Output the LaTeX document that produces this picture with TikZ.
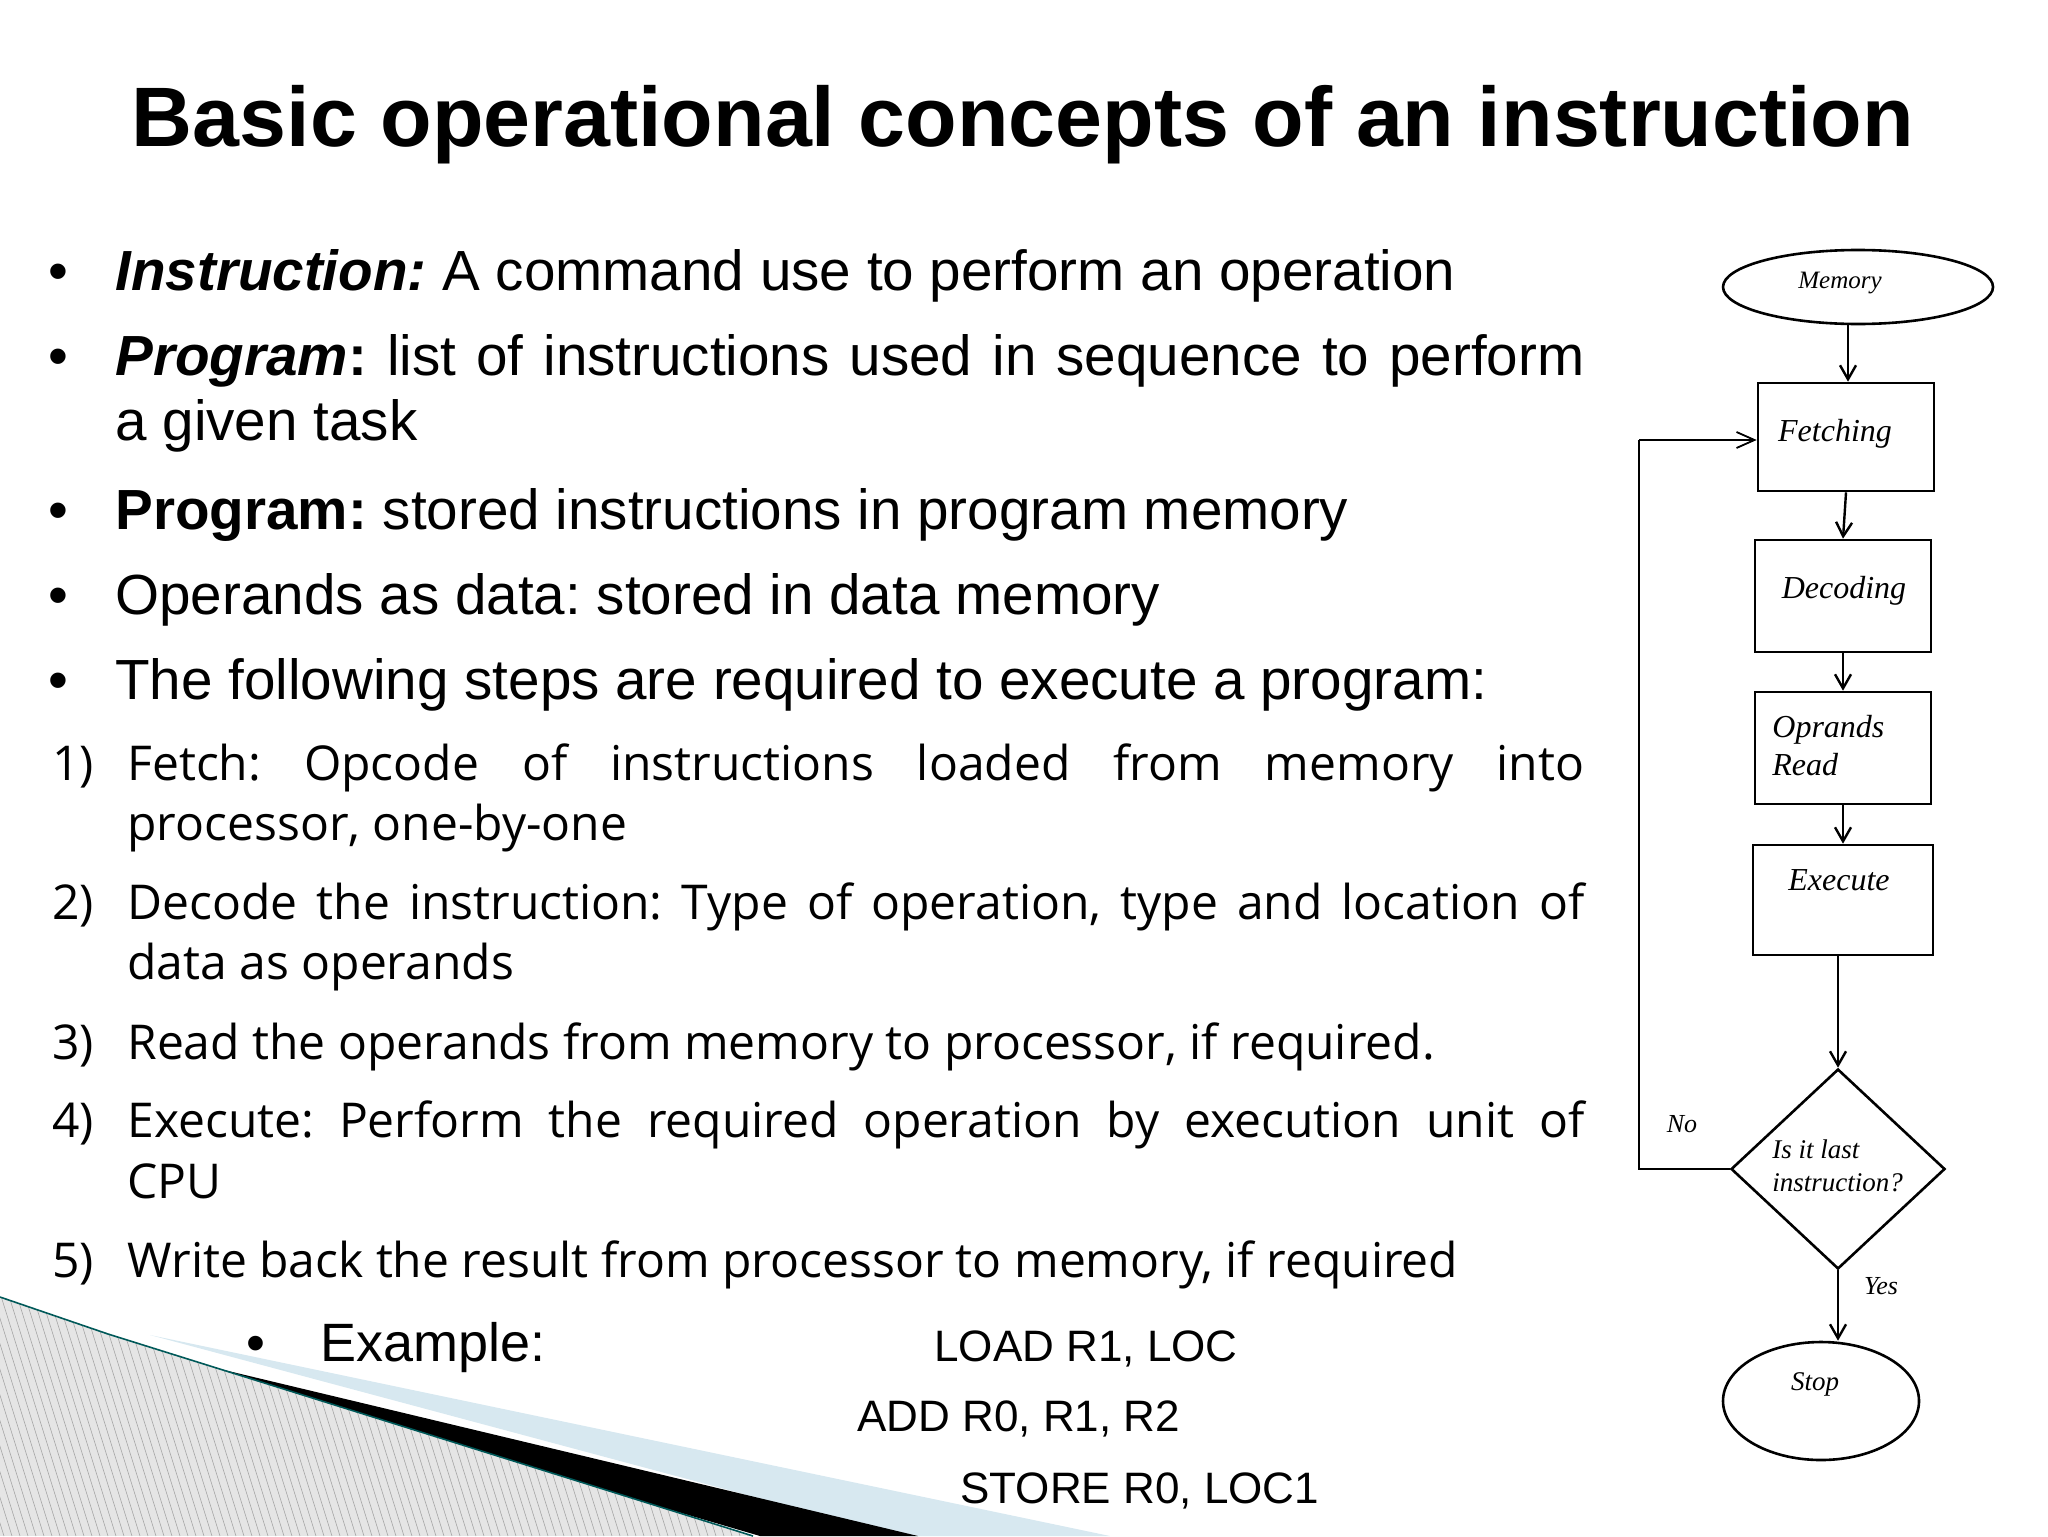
\documentclass[tikz,border=0pt]{standalone}
\usepackage{fontspec}
\setmainfont{Liberation Sans}
\newfontfamily\osans{Open Sans}
\newfontfamily\tms{Liberation Serif}
\usetikzlibrary{shapes.geometric,arrows.meta}
\definecolor{lblue}{RGB}{215,232,240}
\frenchspacing
\begin{document}
\begin{tikzpicture}[x=0.5pt,y=-0.5pt,
  txt/.style={anchor=base west,inner sep=0pt},
  bul/.style={txt,font=\fontsize{28.3}{34}\selectfont},
  num/.style={txt,font=\osans\fontsize{24}{29}\selectfont},
  ex/.style={txt,font=\fontsize{22}{26}\selectfont},
  fbox/.style={draw,line width=1.3pt,minimum width=88pt,minimum height=54pt,inner sep=0pt},
  flab/.style={txt,font=\tms\itshape\fontsize{16}{17}\selectfont},
  farr/.style={line width=1.2pt,-{Straight Barb[length=7pt,width=8pt]}}]
\useasboundingbox (0,0) rectangle (2048,1536);
% bottom-left decoration
\fill[lblue] (150,1335) -- (1110,1536) -- (900,1536) -- cycle;
\fill[black] (57,1330) -- (918,1536) -- (760,1536) -- cycle;
\begin{scope}
\clip (0,1297) -- (108,1334) -- (753,1536) -- (0,1536) -- cycle;
\fill[gray!20] (0,1280) rectangle (800,1536);
\foreach \i in {-300,-292,...,800} \draw[gray!70,line width=0.3pt] (\i,1280) -- (\i+80,1536);
\end{scope}
\draw[teal!70!black,line width=0.8pt] (0,1297) -- (108,1334) -- (753,1536);
% title
\node[inner sep=0pt,anchor=base,font=\bfseries\fontsize{42.2}{48}\selectfont] (title) at (1023,146) {Basic operational concepts of an instruction};
% bullets
\foreach \y/\n in {290/b1,375/b2,529/b3,614/b4,699/b5} \node[bul] (\n) at (48,\y) {•};
\node[bul] (t1) at (115,290) {\textbf{\textit{Instruction:}} A command use to perform an operation};
\node[bul] (t2) at (115,375) {\hbox to 734.5pt{\textbf{\textit{Program}}\textbf{:} list of instructions used in sequence to perform}};
\node[bul] (t2b) at (115,440) {a given task};
\node[bul] (t3) at (115,529) {\textbf{Program:} stored instructions in program memory};
\node[bul] (t4) at (115,614) {Operands as data: stored in data memory};
\node[bul] (t5) at (115,699) {The following steps are required to execute a program:};
% numbered
\foreach \y/\k in {780/1,919/2,1059/3,1137/4,1277/5} \node[num] (n\k) at (52,\y) {\k)};
\node[num] (s1) at (127,780) {\hbox to 728.5pt{Fetch: Opcode of instructions loaded from memory into}};
\node[num] (s1b) at (127,840) {processor, one-by-one};
\node[num] (s2) at (127,919) {\hbox to 728.5pt{Decode the instruction: Type of operation, type and location of}};
\node[num] (s2b) at (127,979) {data as operands};
\node[num] (s3) at (127,1059) {Read the operands from memory to processor, if required.};
\node[num] (s4) at (127,1137) {\hbox to 728.5pt{Execute: Perform the required operation by execution unit of}};
\node[num] (s4b) at (127,1198) {CPU};
\node[num] (s5) at (127,1277) {Write back the result from processor to memory, if required};
% example
\node[txt,font=\fontsize{27}{30}\selectfont] (eb) at (246,1361) {•};
\node[txt,font=\fontsize{27}{30}\selectfont] (ex) at (320,1361) {Example:};
\node[ex] (l1) at (934,1361) {LOAD R1, LOC};
\node[ex] (l2) at (857,1431) {ADD R0, R1, R2};
\node[ex] (l3) at (960,1503) {STORE R0, LOC1};
% flowchart
\node[draw,ellipse,line width=1.3pt,minimum width=135pt,minimum height=37pt] (mem) at (1858,287) {};
\node[flab,font=\tms\itshape\fontsize{12.5}{14}\selectfont,anchor=base] at (1840,288) {Memory};
\node[fbox] (fet) at (1846,437) {};
\node[fbox,minimum height=56pt] (dec) at (1843,596) {};
\node[fbox,minimum height=56pt] (opr) at (1843,748) {};
\node[fbox,minimum width=90pt,minimum height=55pt] (exe) at (1843,900) {};
\node[draw,diamond,line width=1.3pt,minimum width=107pt,minimum height=100pt,inner sep=0pt] (dia) at (1838,1169) {};
\node[draw,ellipse,line width=1.3pt,minimum width=98pt,minimum height=59pt] (stop) at (1821,1401) {};
\node[flab,anchor=base] at (1835,441) {Fetching};
\node[flab,anchor=base] at (1844,598) {Decoding};
\node[flab] at (1772,737) {Oprands};
\node[flab] at (1772,775) {Read};
\node[flab,anchor=base] at (1839,890) {Execute};
\node[flab,font=\tms\itshape\fontsize{13.5}{15}\selectfont] at (1772,1158) {Is it last};
\node[flab,font=\tms\itshape\fontsize{13.5}{15}\selectfont] at (1772,1191) {instruction?};
\node[flab,font=\tms\itshape\fontsize{13.5}{15}\selectfont,anchor=base] at (1815,1390) {Stop};
\node[flab,font=\tms\itshape\fontsize{13}{15}\selectfont,anchor=base] at (1682,1132) {No};
\node[flab,font=\tms\itshape\fontsize{13}{15}\selectfont,anchor=base] at (1881,1294) {Yes};
\coordinate (mb) at (1848,324);
\draw[farr] (mb) -- (fet.north -| mb);
\draw[farr] (fet.south) -- (dec.north);
\draw[farr] (dec.south) -- (opr.north);
\draw[farr] (opr.south) -- (exe.north);
\draw[farr] (exe.south -| dia.north) -- (dia.north);
\draw[farr] (dia.south) -- (dia.south |- stop.north);
\coordinate (lp) at (1639,440);
\draw[line width=1.2pt] (dia.west) -- (dia.west -| lp) -- (lp);
\draw[line width=0.9pt,-{Straight Barb[length=9pt,width=8pt]}] (lp) -- (fet.west |- lp);
\end{tikzpicture}
\end{document}
